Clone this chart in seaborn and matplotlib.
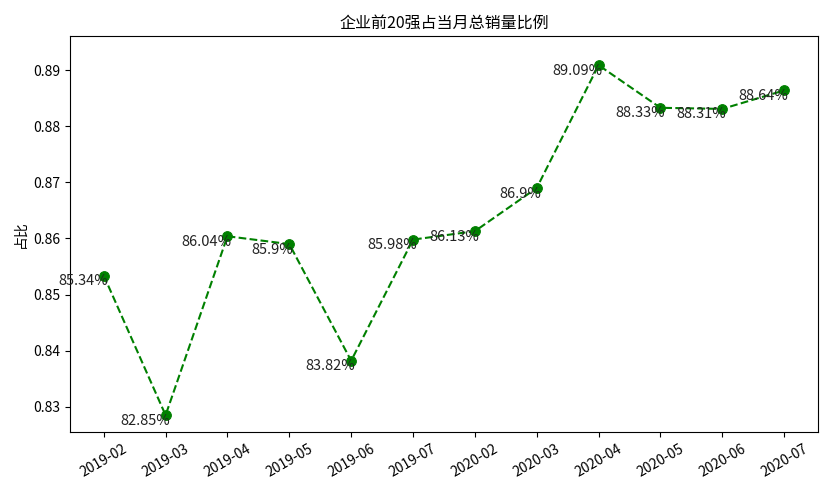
import pandas as pd
import seaborn as sns
import matplotlib.pyplot as plt

months = ["2019-02", "2019-03", "2019-04", "2019-05", "2019-06", "2019-07",
          "2020-02", "2020-03", "2020-04", "2020-05", "2020-06", "2020-07"]
ratio = [0.8534, 0.8285, 0.8604, 0.8590, 0.8382, 0.8598,
         0.8613, 0.8690, 0.8909, 0.8833, 0.8831, 0.8864]

plt.rcParams["font.family"] = ["Noto Sans CJK SC", "DejaVu Sans"]
plt.rcParams["axes.unicode_minus"] = False

df = pd.DataFrame({"month": months, "ratio": ratio})

fig, ax = plt.subplots(figsize=(8.4, 4.8), dpi=100)
sns.lineplot(data=df, x="month", y="ratio", ax=ax, color="green",
             linestyle="--", marker="o", markersize=7, markeredgecolor="green",
             sort=False)

# percentage labels, right-aligned against each point
for i, v in enumerate(ratio):
    ax.annotate(str(round(v * 100, 2)) + "%", (i, v), xytext=(3, -4),
                textcoords="offset points", ha="right", va="center",
                fontsize=10.5, color="#222222")

ax.set_title("企业前20强占当月总销量比例", fontsize=11.5)
ax.set_xlabel("")
ax.set_ylabel("占比", fontsize=10)
ax.set_ylim(0.8255, 0.8961)
ax.tick_params(axis="x", rotation=30, labelsize=10)
ax.tick_params(axis="y", labelsize=10)

fig.subplots_adjust(left=0.083, right=0.974, top=0.925, bottom=0.1)
fig.savefig("out.png", dpi=100)
